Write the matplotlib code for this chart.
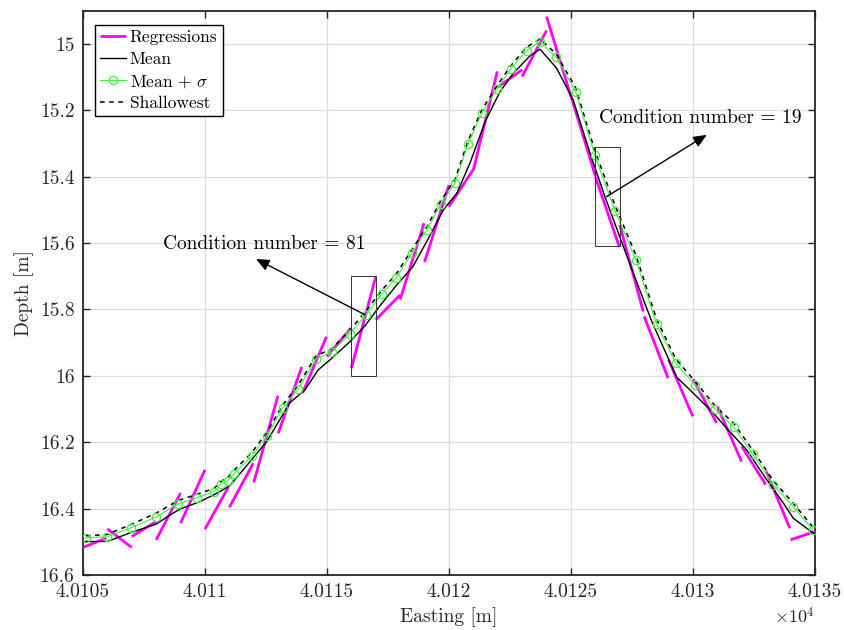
import matplotlib
matplotlib.use("Agg")
import matplotlib.pyplot as plt
from matplotlib.patches import Rectangle

plt.rcParams['font.family'] = 'serif'
plt.rcParams['font.serif'] = ['cmr10']
plt.rcParams['mathtext.fontset'] = 'cm'
plt.rcParams['axes.formatter.use_mathtext'] = True

# ---------------- data ----------------
mean_x = [40105.0, 40106.0, 40106.93, 40108.02, 40108.57, 40108.98, 40109.80, 40110.53, 40111.02,
          40111.84, 40112.53, 40113.48, 40114.10, 40114.64, 40115.12, 40115.94, 40116.56, 40117.17,
          40117.86, 40118.52, 40119.09, 40119.77, 40120.32, 40120.86, 40121.48, 40122.09, 40122.64,
          40123.32, 40123.73, 40124.41, 40125.09, 40125.78, 40126.39, 40127.35, 40128.31, 40129.33,
          40130.01, 40130.83, 40131.38, 40132.20, 40133.02, 40133.70, 40134.11, 40134.93, 40135.0]
mean_y = [16.499, 16.499, 16.473, 16.446, 16.419, 16.401, 16.379, 16.352, 16.331,
          16.259, 16.198, 16.081, 16.042, 15.982, 15.952, 15.897, 15.849, 15.789,
          15.726, 15.671, 15.595, 15.500, 15.450, 15.359, 15.234, 15.144, 15.088,
          15.036, 15.016, 15.073, 15.169, 15.329, 15.460, 15.651, 15.836, 16.004,
          16.052, 16.112, 16.158, 16.223, 16.313, 16.383, 16.429, 16.474, 16.476]

sig_x = [40105.12, 40105.98, 40106.97, 40107.99, 40108.89, 40109.67, 40110.37, 40110.66, 40110.94,
         40111.19, 40111.93, 40112.54, 40113.18, 40113.82, 40114.55, 40115.20, 40115.94, 40116.60,
         40117.25, 40117.83, 40118.48, 40119.10, 40119.67, 40120.25, 40120.78, 40121.35, 40121.97,
         40122.54, 40123.18, 40123.73, 40124.39, 40125.19, 40125.98, 40126.80, 40127.66, 40128.51,
         40129.30, 40130.08, 40130.90, 40131.68, 40132.45, 40133.29, 40134.11, 40134.91]
sig_y = [16.488, 16.485, 16.458, 16.425, 16.386, 16.367, 16.349, 16.325, 16.316,
         16.295, 16.241, 16.181, 16.097, 16.039, 15.949, 15.928, 15.873, 15.816,
         15.753, 15.705, 15.630, 15.560, 15.482, 15.419, 15.301, 15.208, 15.136,
         15.075, 15.020, 14.993, 15.040, 15.144, 15.336, 15.502, 15.651, 15.844,
         15.962, 16.027, 16.100, 16.155, 16.236, 16.328, 16.394, 16.464]

shal_y = [16.482, 16.478, 16.448, 16.414, 16.376, 16.357, 16.339, 16.318, 16.306,
          16.285, 16.230, 16.170, 16.088, 16.028, 15.940, 15.918, 15.862, 15.805,
          15.742, 15.694, 15.620, 15.550, 15.472, 15.408, 15.292, 15.198, 15.126,
          15.065, 15.010, 14.985, 15.030, 15.132, 15.322, 15.486, 15.636, 15.830,
          15.950, 16.016, 16.090, 16.144, 16.224, 16.316, 16.384, 16.455]

reg_x0 = [40105.0, 40106.0, 40107.0, 40108.0, 40109.0, 40110.0, 40111.0, 40112.0, 40113.0, 40114.0,
          40115.0, 40116.0, 40117.0, 40118.0, 40119.0, 40120.0, 40121.0, 40122.0, 40123.0, 40124.0,
          40125.0, 40126.0, 40127.0, 40128.0, 40129.0, 40130.0, 40131.0, 40132.0, 40133.0, 40134.0]
reg_x1 = [40105.95, 40107.0, 40108.0, 40109.0, 40110.0, 40110.96, 40111.98, 40112.99, 40113.97, 40114.98,
          40115.98, 40117.0, 40118.0, 40118.98, 40120.0, 40121.0, 40121.98, 40123.0, 40124.0, 40125.0,
          40126.0, 40126.98, 40127.96, 40128.98, 40129.99, 40130.97, 40131.99, 40132.98, 40133.97, 40135.0]
reg_y0 = [16.517, 16.461, 16.484, 16.494, 16.444, 16.462, 16.396, 16.321, 16.173, 16.052,
          15.942, 15.977, 15.831, 15.770, 15.657, 15.490, 15.380, 15.130, 15.098, 14.918,
          15.157, 15.400, 15.545, 15.821, 15.952, 16.010, 16.092, 16.213, 16.288, 16.494]
reg_y1 = [16.489, 16.517, 16.439, 16.353, 16.283, 16.335, 16.263, 16.060, 15.973, 15.882,
          15.856, 15.701, 15.756, 15.540, 15.425, 15.378, 15.083, 15.078, 14.960, 15.159,
          15.398, 15.611, 15.806, 16.007, 16.122, 16.142, 16.258, 16.328, 16.459, 16.469]

xticks = [40105, 40110, 40115, 40120, 40125, 40130, 40135]
xticklabels = ['4.0105', '4.011', '4.0115', '4.012', '4.0125', '4.013', '4.0135']
yticks = [15.0, 15.2, 15.4, 15.6, 15.8, 16.0, 16.2, 16.4, 16.6]
yticklabels = ['15', '15.2', '15.4', '15.6', '15.8', '16', '16.2', '16.4', '16.6']

# ---------------- figure ----------------
fig = plt.figure(figsize=(8.45, 6.3), dpi=100)
ax = fig.add_axes([0.0982, 0.0873, 0.8663, 0.8957])

for i in range(len(reg_x0)):
    ax.plot([reg_x0[i], reg_x1[i]], [reg_y0[i], reg_y1[i]], color='#ff00ff', lw=2.0,
            solid_capstyle='butt', label='Regressions' if i == 0 else None, zorder=3)

ax.plot(mean_x, mean_y, color='black', lw=1.0, label='Mean', zorder=4)
ax.plot(sig_x, sig_y, color='#3ff03f', lw=0.8, marker='o', markersize=6,
        markerfacecolor='none', markeredgewidth=0.9, label=r'Mean + $\sigma$', zorder=5)
ax.plot(sig_x, shal_y, color='black', lw=1.1, ls=(0, (3, 3)), label='Shallowest', zorder=4)

# boxes
ax.add_patch(Rectangle((40116, 15.70), 1.0, 0.30, fill=False, ec='#333333', lw=0.7, zorder=6))
ax.add_patch(Rectangle((40126, 15.312), 1.0, 0.298, fill=False, ec='#333333', lw=0.7, zorder=6))

# annotations
ax.annotate('', xy=(40112.09, 15.648), xytext=(40116.56, 15.816),
            arrowprops=dict(arrowstyle='-|>,head_length=0.8,head_width=0.35', color='black', lw=1.0,
                            shrinkA=0, shrinkB=0), zorder=7)
ax.text(40108.28, 15.602, 'Condition number = 81', fontsize=14, ha='left', va='center', zorder=7)
ax.annotate('', xy=(40130.56, 15.274), xytext=(40126.46, 15.460),
            arrowprops=dict(arrowstyle='-|>,head_length=0.8,head_width=0.35', color='black', lw=1.0,
                            shrinkA=0, shrinkB=0), zorder=7)
ax.text(40126.15, 15.223, 'Condition number = 19', fontsize=14, ha='left', va='center', zorder=7)

ax.set_xlim(40105, 40135)
ax.set_ylim(16.6, 14.9)
ax.set_xticks(xticks)
ax.set_xticklabels(xticklabels)
ax.set_yticks(yticks)
ax.set_yticklabels(yticklabels)
ax.tick_params(direction='in', length=5, width=1.0, labelsize=14, top=True, right=True,
               colors='#262626', labelcolor='#262626', pad=6)
ax.grid(True, color='#dcdcdc', lw=0.9)
ax.set_axisbelow(True)
for s in ax.spines.values():
    s.set_linewidth(1.3)
    s.set_color('#262626')

ax.set_xlabel('Easting [m]', fontsize=14, color='#262626', labelpad=4)
ax.set_ylabel('Depth [m]', fontsize=14, color='#262626', labelpad=4)
ax.text(1.0, -0.054, r'$\times 10^{4}$', transform=ax.transAxes, ha='right', va='top',
        fontsize=13, color='#262626')

leg = ax.legend(loc='upper left', bbox_to_anchor=(0.0165, 0.975), fontsize=12.5,
                frameon=True, fancybox=False, edgecolor='black', framealpha=1,
                handlelength=1.5, handletextpad=0.2, borderpad=0.3, labelspacing=0.35,
                borderaxespad=0)
leg.get_frame().set_linewidth(1.0)

fig.savefig('out.png', dpi=100)
